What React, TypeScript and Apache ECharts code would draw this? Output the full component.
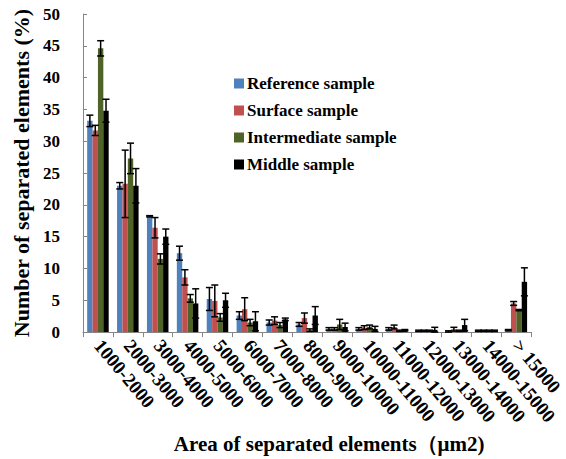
import React, { useEffect, useRef } from 'react';
import * as echarts from 'echarts';

const categories = [
  '1000-2000', '2000-3000', '3000-4000', '4000-5000', '5000-6000', '6000-7000',
  '7000-8000', '8000-9000', '9000-10000', '10000-11000', '11000-12000',
  '12000-13000', '13000-14000', '14000-15000', '> 15000',
];
const seriesNames = ['Reference sample', 'Surface sample', 'Intermediate sample', 'Middle sample'];

const referenceValues = [33.2, 23.0, 18.2, 12.4, 5.2, 2.6, 1.5, 1.2, 0.5, 0.5, 0.5, 0.2, 0.1, 0.2, 0.3];
const referenceErrors = [0.9, 0.5, 0.1, 1.1, 1.8, 0.6, 0.4, 0.3, 0.2, 0.2, 0.2, 0.1, 0.1, 0.1, 0.1];
const surfaceValues = [31.7, 23.3, 16.4, 8.6, 4.9, 3.6, 1.8, 2.2, 0.5, 0.7, 0.8, 0.2, 0.45, 0.2, 4.5];
const surfaceErrors = [0.8, 5.3, 1.6, 1.2, 2.5, 1.8, 0.6, 0.8, 0.2, 0.3, 0.3, 0.1, 0.3, 0.1, 0.3];
const intermediateValues = [44.6, 27.3, 11.5, 5.3, 2.3, 1.5, 1.1, 0.3, 1.2, 0.8, 0.2, 0.2, 0.2, 0.2, 3.45];
const intermediateErrors = [1.2, 2.4, 0.8, 0.6, 0.6, 0.5, 0.4, 0.2, 0.8, 0.3, 0.1, 0.1, 0.1, 0.1, 0.1];
const middleValues = [34.8, 23.0, 15.0, 4.5, 5.0, 1.7, 2.0, 2.6, 0.8, 0.5, 0.3, 0.35, 1.1, 0.2, 7.9];
const middleErrors = [1.8, 2.7, 1.2, 2.3, 1.1, 1.5, 0.2, 1.4, 0.6, 0.4, 0.1, 0.4, 0.9, 0.1, 2.2];

const colors = ['#4F81BD', '#C0504D', '#4F6228', '#000000'];

export default function App() {
  const ref = useRef<HTMLDivElement>(null);
  useEffect(() => {
    const chart = echarts.init(ref.current!, null, { renderer: 'svg' });
    const values = [referenceValues, surfaceValues, intermediateValues, middleValues];
    const errors = [referenceErrors, surfaceErrors, intermediateErrors, middleErrors];
    const gap = 0.28;
    const font = "'Liberation Serif', 'Times New Roman', serif";

    const barSeries = seriesNames.map((name, i) => ({
      type: 'bar',
      name,
      data: values[i],
      itemStyle: { color: colors[i] },
      barGap: '0%',
      barCategoryGap: '28%',
    }));

    const errSeries = seriesNames.map((name, i) => ({
      type: 'custom',
      name: name + ' error',
      z: 5,
      data: values[i].map((v, k) => [k, v, errors[i][k]]),
      encode: { x: 0, y: 1 },
      renderItem: (params: any, api: any) => {
        const k = api.value(0);
        const v = api.value(1);
        const e = api.value(2);
        const band = api.size([1, 0])[0];
        const bw = (band * (1 - gap)) / 4;
        const cx = api.coord([k, v])[0] + (i - 1.5) * bw;
        const top = api.coord([k, v + e])[1];
        const bot = api.coord([k, Math.max(v - e, 0)])[1];
        const hw = 3.5;
        const style = { stroke: '#000', lineWidth: 1.5 };
        return {
          type: 'group',
          children: [
            { type: 'line', shape: { x1: cx, y1: top, x2: cx, y2: bot }, style },
            { type: 'line', shape: { x1: cx - hw, y1: top, x2: cx + hw, y2: top }, style },
            { type: 'line', shape: { x1: cx - hw, y1: bot, x2: cx + hw, y2: bot }, style },
          ],
        };
      },
    }));

    chart.setOption({
      animation: false,
      backgroundColor: '#fff',
      grid: { left: 83, right: 32, top: 14, bottom: 122, containLabel: false },
      legend: {
        data: seriesNames,
        orient: 'vertical',
        left: 229,
        top: 70,
        itemWidth: 10,
        itemHeight: 10,
        itemGap: 10,
        icon: 'rect',
        textStyle: { fontFamily: font, fontWeight: 'bold', fontSize: 17, color: '#000', lineHeight: 17, padding: [0, 0, 0, -2] },
      },
      xAxis: {
        type: 'category',
        data: categories,
        name: 'Area of separated elements（μm2)',
        nameLocation: 'middle',
        nameGap: 96,
        nameTextStyle: { fontFamily: font, fontWeight: 'bold', fontSize: 21, color: '#000', padding: [0, 0, 0, 44] },
        axisLine: { lineStyle: { color: '#868686', width: 1 } },
        axisTick: { show: true, length: 5, lineStyle: { color: '#868686' } },
        axisLabel: {
          interval: 0,
          rotate: -50,
          margin: 10,
          fontFamily: font,
          fontWeight: 'bold',
          fontSize: 19,
          color: '#000',
        },
      },
      yAxis: {
        type: 'value',
        min: 0,
        max: 50,
        interval: 5,
        name: 'Number of separated elements (%)',
        nameLocation: 'middle',
        nameRotate: 90,
        nameGap: 50,
        nameTextStyle: { fontFamily: font, fontWeight: 'bold', fontSize: 22, color: '#000' },
        axisLine: { show: true, lineStyle: { color: '#868686', width: 1 } },
        axisTick: { show: true, inside: true, length: 4, lineStyle: { color: '#868686' } },
        splitLine: { show: false },
        axisLabel: { margin: 23, fontFamily: font, fontWeight: 'bold', fontSize: 17, color: '#000' },
      },
      series: [...barSeries, ...errSeries],
    });
    return () => chart.dispose();
  }, []);
  return <div ref={ref} style={{ width: 566, height: 459, position: 'absolute', left: 0, top: 0 }} />;
}
